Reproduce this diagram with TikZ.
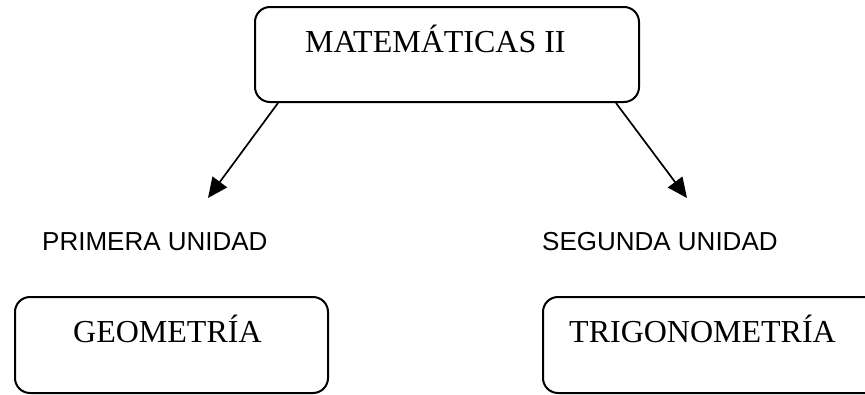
\documentclass[tikz,border=0pt]{standalone}
\usepackage{fontspec}
\setmainfont{Liberation Serif}
\newfontfamily\arialfont{Liberation Sans}
\usetikzlibrary{arrows.meta, calc}

\begin{document}
\begin{tikzpicture}[line cap=round,line join=round,>={Triangle[length=20pt,width=18pt]},x=1pt,y=-1pt,
  caja/.style={draw, line width=2pt, rounded corners=15pt, inner sep=0pt},
  titulo/.style={anchor=base west, inner sep=0pt, font=\fontsize{32}{36}\selectfont},
  unidad/.style={anchor=base west, inner sep=0pt, font=\arialfont\fontsize{26}{30}\selectfont}]
\useasboundingbox (0,0) rectangle (865,394);
\clip (0,0) rectangle (865,394);

\node[caja, minimum width=384pt, minimum height=95pt] (M) at (447,54.5) {};
\node[caja, minimum width=313pt, minimum height=96pt] (G) at (171.5,345) {};
\node[caja, minimum width=337pt, minimum height=96pt] (T) at (711.5,345) {};

\coordinate (P) at (208,198);
\coordinate (S) at (687,198);

\draw[->, line width=1.7pt] ($(M.south west)+(24,0)$) -- (P);
\draw[->, line width=1.7pt] ($(M.south east)+(-24,0)$) -- (S);

\node[titulo] (tm) at (305,52) {MATEMÁTICAS II};
\node[titulo] (tg) at (73,342) {GEOMETRÍA};
\node[titulo] (tt) at (569,342) {TRIGONOMETRÍA};

\node[unidad] (up) at (42,250) {PRIMERA UNIDAD};
\node[unidad] (us) at (542,250) {SEGUNDA UNIDAD};
\end{tikzpicture}
\end{document}
